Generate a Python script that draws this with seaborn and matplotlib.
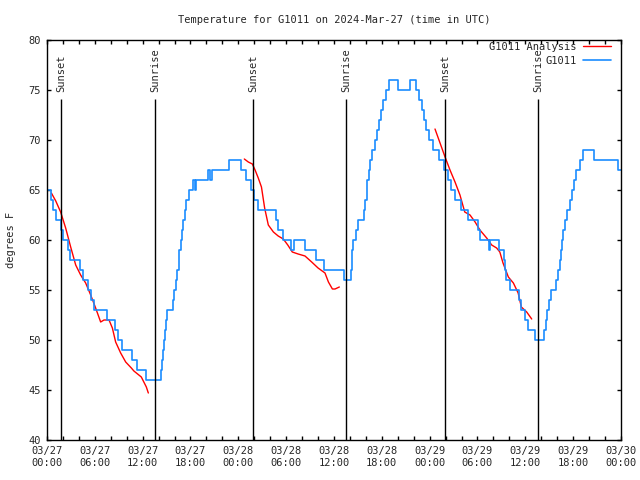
import matplotlib
matplotlib.use("Agg")
import matplotlib.pyplot as plt
import matplotlib.dates as mdates
import pandas as pd
import seaborn as sns

# -- data (hours after 2024-03-27 00:00 UTC, degrees F)
start = pd.Timestamp("2024-03-27 00:00")

obs_hours = [
    0.0, 0.5, 0.8, 1.1, 1.7, 2.05, 2.6, 2.9, 4.1, 4.56, 5.2, 5.55, 5.9, 7.5,
    8.5, 8.85, 9.35, 10.6, 11.25, 12.4,
    14.3, 14.4, 14.55, 14.7, 14.85, 14.95, 15.05, 15.75, 15.95, 16.15, 16.35,
    16.5, 16.6, 16.75, 16.9, 17.05, 17.25, 17.45, 17.85, 18.3, 18.55, 18.7,
    20.2, 20.4, 20.75, 22.8, 24.35, 24.95, 25.55, 26.0, 26.5, 28.7, 28.95,
    29.6, 30.6, 31.0, 32.4, 33.75, 34.7, 37.25,
    38.1, 38.2, 38.3, 38.4, 38.75, 39.0, 39.75, 39.9, 40.1, 40.2, 40.35,
    40.55, 40.8, 41.1, 41.35, 41.7, 41.95, 42.15, 42.5, 42.85, 44.0, 45.55,
    46.25, 46.7, 47.05, 47.35, 47.6, 47.9, 48.4, 49.2, 49.8, 50.35, 50.7,
    51.2, 51.95, 52.8, 54.05, 54.3, 55.4, 55.6, 56.65, 57.3, 57.45, 57.6,
    58.1, 59.2, 59.45, 60.0, 60.3, 61.15,
    62.35, 62.55, 62.75, 63.0, 63.25, 63.9, 64.1, 64.3, 64.45, 64.6, 64.75,
    64.95, 65.2, 65.65, 65.9, 66.1, 66.4, 66.8, 67.2, 68.65, 71.6, 72.0,
]
obs_temps = [
    65, 64, 63, 62, 61, 60, 59, 58, 57, 56, 55, 54, 53, 52,
    51, 50, 49, 48, 47, 46,
    47, 48, 49, 50, 51, 52, 53, 54, 55, 56, 57,
    58, 59, 60, 61, 62, 63, 64, 65, 66, 65, 66,
    67, 66, 67, 68, 67, 66, 65, 64, 63, 62, 61,
    60, 59, 60, 59, 58, 57, 56,
    57, 58, 59, 60, 61, 62, 63, 64, 65, 66, 67,
    68, 69, 70, 71, 72, 73, 74, 75, 76, 75, 76,
    75, 74, 73, 72, 71, 70, 69, 68, 67, 66, 65,
    64, 63, 62, 61, 60, 59, 60, 59, 58, 57, 56,
    55, 54, 53, 52, 51, 50,
    51, 52, 53, 54, 55, 56, 57, 58, 59, 60, 61,
    62, 63, 64, 65, 66, 67, 68, 69, 68, 67, 67,
]

ana1_hours = [0.55, 1.1, 1.71, 2.34, 2.97, 3.6, 4.22, 4.85, 5.48, 6.1, 6.73,
              7.15, 7.78, 8.2, 8.61, 9.24, 9.87, 10.58, 10.9, 11.83, 12.46, 12.71]
ana1_temps = [64.7, 63.9, 62.8, 61.2, 59.3, 57.5, 56.5, 55.7, 54.5, 53.2, 51.8,
              52.0, 52.0, 51.2, 49.8, 48.7, 47.8, 47.2, 46.9, 46.3, 45.3, 44.7]

ana2_hours = [24.75, 25.25, 25.76, 26.1, 26.5, 26.9, 27.3, 27.76, 28.4, 29.0,
              29.64, 30.2, 30.77, 31.5, 32.36, 33.2, 34.0, 34.87, 35.3, 35.8,
              36.13, 36.67]
ana2_temps = [68.1, 67.8, 67.6, 67.0, 66.2, 65.3, 63.2, 61.5, 60.8, 60.4,
              60.1, 59.5, 58.8, 58.6, 58.4, 57.8, 57.2, 56.7, 55.8, 55.1,
              55.1, 55.3]

ana3_hours = [48.67, 49.3, 49.93, 50.55, 51.18, 51.8, 52.4, 53.06, 53.7, 54.3,
              55.15, 55.78, 56.4, 56.8, 57.2, 57.87, 58.5, 59.1, 59.5, 60.17, 60.8]
ana3_temps = [71.1, 69.7, 68.3, 67.0, 65.8, 64.5, 62.8, 62.5, 61.8, 61.0,
              60.2, 59.5, 59.2, 58.8, 57.7, 56.3, 55.7, 54.7, 53.3, 52.8, 52.1]

sun_hours = [1.79, 13.58, 25.88, 37.54, 49.96, 61.63]
sun_labels = ["Sunset", "Sunrise", "Sunset", "Sunrise", "Sunset", "Sunrise"]

obs = pd.DataFrame({"time": start + pd.to_timedelta(obs_hours, unit="h"),
                    "temp": obs_temps})
ana = pd.concat([
    pd.DataFrame({"time": start + pd.to_timedelta(h, unit="h"), "temp": t, "seg": i})
    for i, (h, t) in enumerate([(ana1_hours, ana1_temps),
                                (ana2_hours, ana2_temps),
                                (ana3_hours, ana3_temps)])
])

# -- plot
sns.set_theme(style="ticks")
plt.rcParams["font.family"] = ["DejaVu Sans Mono", "DejaVu Sans"]
fs = 7.5

fig, ax = plt.subplots(figsize=(6.4, 4.8), dpi=100)
fig.subplots_adjust(left=47 / 640, right=621 / 640, top=1 - 40 / 480, bottom=1 - 440 / 480)

for seg, d in ana.groupby("seg"):
    sns.lineplot(data=d, x="time", y="temp", color="red", lw=1, ax=ax,
                 label="G1011 Analysis" if seg == 0 else None, legend=seg == 0)
sns.lineplot(data=obs, x="time", y="temp", color="#1a8cff", lw=1.2,
             drawstyle="steps-post", ax=ax, label="G1011")

sun_times = start + pd.to_timedelta(sun_hours, unit="h")
ax.vlines(sun_times, 40, 74.1, color="black", lw=1)
for t, lab in zip(sun_times, sun_labels):
    ax.text(t, 74.8, lab, rotation=90, ha="center", va="bottom", fontsize=fs)

ax.set_xlim(start, start + pd.Timedelta(hours=72))
ax.set_ylim(40, 80)
ax.set_yticks(range(40, 81, 5))
ax.xaxis.set_major_locator(mdates.HourLocator(byhour=[0, 6, 12, 18]))
ax.xaxis.set_minor_locator(mdates.HourLocator(byhour=range(0, 24, 2)))
ax.xaxis.set_major_formatter(mdates.DateFormatter("%m/%d\n%H:%M"))
ax.tick_params(which="both", direction="in", top=True, right=True,
               length=3, width=1, color="black", labelsize=fs, pad=4.5)
for sp in ax.spines.values():
    sp.set_color("black")
    sp.set_linewidth(1)

ax.set_title("Temperature for G1011 on 2024-Mar-27 (time in UTC)", fontsize=fs, pad=12)
ax.set_xlabel("")
ax.set_ylabel("degrees F", fontsize=fs, labelpad=9)

# gnuplot-style key: text right-aligned, sample line after it
handles, labels = ax.get_legend_handles_labels()
ax.legend(handles, labels, loc="upper right", bbox_to_anchor=(0.982, 0.995),
          frameon=False, markerfirst=False, fontsize=fs, handlelength=2.7,
          handletextpad=0.6, labelspacing=0.35, borderpad=0, borderaxespad=0)

fig.savefig("out.png", dpi=100)
